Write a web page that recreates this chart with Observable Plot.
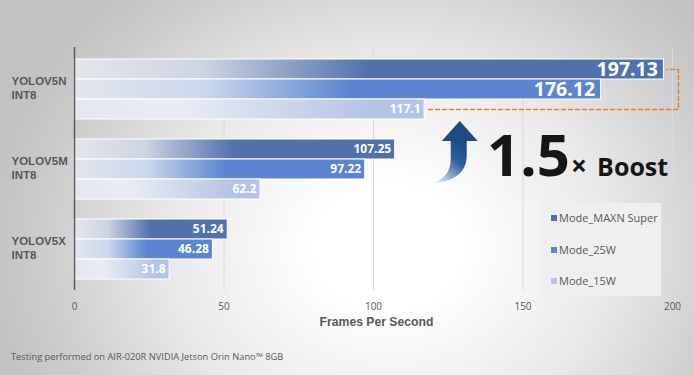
<!DOCTYPE html>
<html><head><meta charset="utf-8">
<script src="https://cdn.jsdelivr.net/npm/d3@7"></script>
<script src="https://cdn.jsdelivr.net/npm/@observablehq/plot@0.6"></script>
<style>
html,body{margin:0;padding:0;background:#fff;}
#wrap{position:relative;width:694px;height:375px;overflow:hidden;
  background:radial-gradient(ellipse 58% 92% at 56% 66%, #ffffff 0%, #ffffff 18%, #e9e9e9 55%, #cdcdcd 85%, #c2c2c2 100%);}
#chart{position:absolute;left:0;top:0;}
#legend{position:absolute;left:541px;top:203px;width:120px;height:93px;background:#efefef;font-family:"Open Sans",sans-serif;font-size:11px;color:#595959;}
#legend .item{position:absolute;left:10px;height:16px;line-height:16px;white-space:nowrap;}
#legend .sw{display:inline-block;width:6px;height:6px;margin-right:2px;vertical-align:1px;}
#caption{position:absolute;left:11px;top:350px;font-family:"Open Sans",sans-serif;font-size:9.3px;color:#595959;white-space:nowrap;}
</style></head><body>
<div id="wrap"><div id="chart"></div><div id="legend"></div><div id="caption"></div></div>
<script>
const models = ["YOLOV5N", "YOLOV5M", "YOLOV5X"];
const precision = "INT8";
const modes = ["Mode_MAXN Super", "Mode_25W", "Mode_15W"];
const maxnSuper = [197.13, 107.25, 51.24];
const w25 = [176.12, 97.22, 46.28];
const w15 = [117.1, 62.2, 31.8];
const xTicks = [0, 50, 100, 150, 200];
const boostFactor = "1.5";
const boostSign = "×";
const boostWord = "Boost";
const axisTitle = "Frames Per Second";
const captionText = "Testing performed on AIR-020R NVIDIA Jetson Orin Nano™ 8GB";

const modeColors = ["#5171ad", "#5b86cf", "#b4c4e6"];
const series = [maxnSuper, w25, w15];

const rows = [];
models.forEach((m, i) => modes.forEach((mode, j) => rows.push({model: m, mode, value: series[j][i], key: m + "|" + mode})));
const yDomain = [];
models.forEach((m, i) => { if (i > 0) yDomain.push("gap" + i); modes.forEach(mode => yDomain.push(m + "|" + mode)); });

const keyN15 = models[0] + "|" + modes[2];
const keyNMax = models[0] + "|" + modes[0];
const connector = [
  {x: w15[0] + 1.3, y: keyN15},
  {x: 202, y: keyN15},
  {x: 202, y: keyNMax},
  {x: maxnSuper[0] + 0.9, y: keyNMax}
];
const isBig = d => d.model === models[0] && d.mode !== modes[2];
const annotKey = models[1] + "|" + modes[0];

const plot = Plot.plot({
  width: 694, height: 375,
  marginLeft: 74, marginRight: 22, marginTop: 47, marginBottom: 85,
  style: {background: "transparent", fontFamily: "Open Sans", overflow: "visible"},
  x: {domain: [0, 200]},
  y: {domain: yDomain, paddingInner: 0, paddingOuter: 0.5, axis: null},
  marks: [
    Plot.ruleX(xTicks.slice(1), {stroke: "#dadada", strokeWidth: 1}),
    ...modes.map((mode, j) => Plot.barX(rows.filter(r => r.mode === mode),
      {x: "value", y: "key", fill: `url(#grad${j})`, stroke: "white", strokeWidth: 1})),
    Plot.ruleX([0], {stroke: "#595959", strokeWidth: 1.5}),
    Plot.axisX({ticks: xTicks, tickSize: 0, tickPadding: 12, fontSize: 10, fill: "#595959", label: null}),
    Plot.text([axisTitle], {frameAnchor: "bottom", dy: 35, dx: 3, lineAnchor: "bottom", fontSize: 12.2,
      fontWeight: "bold", fill: "#595959", fontFamily: "Liberation Sans"}),
    Plot.text(models, {y: m => m + "|" + modes[1], text: m => m + "\n" + precision, frameAnchor: "left",
      dx: -63, dy: -2, textAnchor: "start", lineHeight: 1.2, fontSize: 11.5, fontWeight: "bold",
      fill: "#595959", fontFamily: "Liberation Sans"}),
    Plot.text(rows.filter(isBig), {x: "value", y: "key", text: d => String(d.value), textAnchor: "end",
      dx: -6, dy: 0.5, fill: "white", fontSize: 19.5, fontWeight: "bold", fontFamily: "Open Sans"}),
    Plot.text(rows.filter(d => !isBig(d)), {x: "value", y: "key", text: d => String(d.value), textAnchor: "end",
      dx: -4, fill: "white", fontSize: 12, fontWeight: "bold", fontFamily: "Open Sans"}),
    Plot.line(connector, {x: "x", y: "y", stroke: "#ed7d31", strokeWidth: 1.5, strokeDasharray: "4,3"}),
    Plot.text([boostFactor], {x: [138], y: [annotKey], dy: 26.5, lineAnchor: "bottom", textAnchor: "start",
      fontSize: 58, fontWeight: "bold", fill: "#161616", fontFamily: "Open Sans", letterSpacing: "-2px"}),
    Plot.text([boostSign], {x: [138], y: [annotKey], dx: 84, dy: 26.5, lineAnchor: "bottom", textAnchor: "start",
      fontSize: 28, fontWeight: "bold", fill: "#161616", fontFamily: "Open Sans"}),
    Plot.text([boostWord], {x: [138], y: [annotKey], dx: 110, dy: 26.5, lineAnchor: "bottom", textAnchor: "start",
      fontSize: 25, fontWeight: "bold", fill: "#161616", fontFamily: "Open Sans"})
  ]
});

// gradients
const svg = d3.select(plot);
const defs = svg.insert("defs", ":first-child");
const gradStops = [
  [[0, "#e3e6ec"], [0.22, "#cdd4e2"], [0.5, modeColors[0]], [1, modeColors[0]]],
  [[0, "#e2e6ed"], [0.25, "#cbd7ee"], [0.52, modeColors[1]], [1, modeColors[1]]],
  [[0, "#e4e7ee"], [0.3, "#e9ecf5"], [0.85, modeColors[2]], [1, modeColors[2]]]
];
gradStops.forEach((stops, j) => {
  const g = defs.append("linearGradient").attr("id", "grad" + j).attr("x1", 0).attr("y1", 0).attr("x2", 1).attr("y2", 0);
  stops.forEach(([o, c]) => g.append("stop").attr("offset", o).attr("stop-color", c));
});
const ag = defs.append("linearGradient").attr("id", "arrowGrad").attr("x1", 0.8).attr("y1", 0).attr("x2", 0.1).attr("y2", 1);
[[0, "#1f4a84"], [0.35, "#2f5f9e"], [1, "#ffffff"]].forEach(([o, c]) => ag.append("stop").attr("offset", o).attr("stop-color", c));

// arrow annotation placed with the plot's scales
const xs = plot.scale("x"), ys = plot.scale("y");
const ax = xs.apply(129), ay = ys.apply(keyN15) + ys.bandwidth;
const arrow = svg.append("g").attr("transform", `translate(${ax},${ay})`);
arrow.append("path").attr("d", "M -9,22 L -9,40 Q -9,60 -31,65 Q 7,62 7,37 L 7,22 Z").attr("fill", "url(#arrowGrad)");
arrow.append("path").attr("d", "M 0,2 L 18,22 L -18,22 Z").attr("fill", "#1f4a84");

document.getElementById("chart").appendChild(plot);

// legend
const legend = document.getElementById("legend");
const rowTops = [7, 39, 70];
modes.forEach((m, j) => {
  const it = document.createElement("div");
  it.className = "item";
  it.style.top = rowTops[j] + "px";
  it.innerHTML = `<span class="sw" style="background:${modeColors[j]}"></span>${m}`;
  legend.appendChild(it);
});
document.getElementById("caption").textContent = captionText;
</script>
</body></html>
